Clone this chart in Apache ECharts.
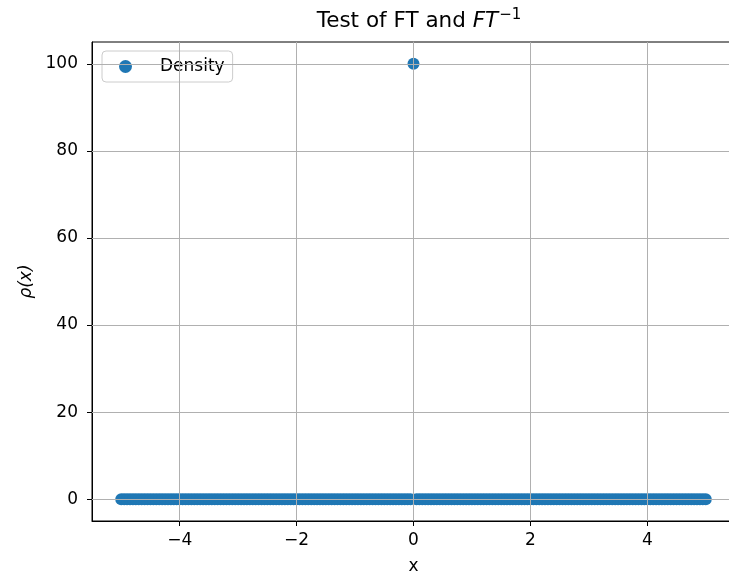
<!DOCTYPE html>
<html>
<head>
<meta charset="utf-8">
<script src="https://cdn.jsdelivr.net/npm/echarts@6/dist/echarts.min.js"></script>
<style>
  html, body { margin: 0; padding: 0; background: #fff; overflow: hidden; }
  #chart { width: 740px; height: 575px; }
</style>
</head>
<body>
<div id="chart"></div>
<script>
// Sample positions on the x grid
const xValues = [
  -5.00, -4.95, -4.90, -4.85, -4.80, -4.75, -4.70, -4.65, -4.60, -4.55,
  -4.50, -4.45, -4.40, -4.35, -4.30, -4.25, -4.20, -4.15, -4.10, -4.05,
  -4.00, -3.95, -3.90, -3.85, -3.80, -3.75, -3.70, -3.65, -3.60, -3.55,
  -3.50, -3.45, -3.40, -3.35, -3.30, -3.25, -3.20, -3.15, -3.10, -3.05,
  -3.00, -2.95, -2.90, -2.85, -2.80, -2.75, -2.70, -2.65, -2.60, -2.55,
  -2.50, -2.45, -2.40, -2.35, -2.30, -2.25, -2.20, -2.15, -2.10, -2.05,
  -2.00, -1.95, -1.90, -1.85, -1.80, -1.75, -1.70, -1.65, -1.60, -1.55,
  -1.50, -1.45, -1.40, -1.35, -1.30, -1.25, -1.20, -1.15, -1.10, -1.05,
  -1.00, -0.95, -0.90, -0.85, -0.80, -0.75, -0.70, -0.65, -0.60, -0.55,
  -0.50, -0.45, -0.40, -0.35, -0.30, -0.25, -0.20, -0.15, -0.10, -0.05,
   0.00,
   0.05,  0.10,  0.15,  0.20,  0.25,  0.30,  0.35,  0.40,  0.45,  0.50,
   0.55,  0.60,  0.65,  0.70,  0.75,  0.80,  0.85,  0.90,  0.95,  1.00,
   1.05,  1.10,  1.15,  1.20,  1.25,  1.30,  1.35,  1.40,  1.45,  1.50,
   1.55,  1.60,  1.65,  1.70,  1.75,  1.80,  1.85,  1.90,  1.95,  2.00,
   2.05,  2.10,  2.15,  2.20,  2.25,  2.30,  2.35,  2.40,  2.45,  2.50,
   2.55,  2.60,  2.65,  2.70,  2.75,  2.80,  2.85,  2.90,  2.95,  3.00,
   3.05,  3.10,  3.15,  3.20,  3.25,  3.30,  3.35,  3.40,  3.45,  3.50,
   3.55,  3.60,  3.65,  3.70,  3.75,  3.80,  3.85,  3.90,  3.95,  4.00,
   4.05,  4.10,  4.15,  4.20,  4.25,  4.30,  4.35,  4.40,  4.45,  4.50,
   4.55,  4.60,  4.65,  4.70,  4.75,  4.80,  4.85,  4.90,  4.95,  5.00
];

// Density at each sample (a single spike at x = 0)
const densityValues = [
  0, 0, 0, 0, 0, 0, 0, 0, 0, 0,
  0, 0, 0, 0, 0, 0, 0, 0, 0, 0,
  0, 0, 0, 0, 0, 0, 0, 0, 0, 0,
  0, 0, 0, 0, 0, 0, 0, 0, 0, 0,
  0, 0, 0, 0, 0, 0, 0, 0, 0, 0,
  0, 0, 0, 0, 0, 0, 0, 0, 0, 0,
  0, 0, 0, 0, 0, 0, 0, 0, 0, 0,
  0, 0, 0, 0, 0, 0, 0, 0, 0, 0,
  0, 0, 0, 0, 0, 0, 0, 0, 0, 0,
  0, 0, 0, 0, 0, 0, 0, 0, 0, 0,
  100,
  0, 0, 0, 0, 0, 0, 0, 0, 0, 0,
  0, 0, 0, 0, 0, 0, 0, 0, 0, 0,
  0, 0, 0, 0, 0, 0, 0, 0, 0, 0,
  0, 0, 0, 0, 0, 0, 0, 0, 0, 0,
  0, 0, 0, 0, 0, 0, 0, 0, 0, 0,
  0, 0, 0, 0, 0, 0, 0, 0, 0, 0,
  0, 0, 0, 0, 0, 0, 0, 0, 0, 0,
  0, 0, 0, 0, 0, 0, 0, 0, 0, 0,
  0, 0, 0, 0, 0, 0, 0, 0, 0, 0,
  0, 0, 0, 0, 0, 0, 0, 0, 0, 0
];

// Tick positions
const xTicks = [-4, -2, 0, 2, 4];
const yTicks = [0, 20, 40, 60, 80, 100];

const FONT = 'DejaVu Sans';
const BLUE = '#1f77b4';
const GRID_COLOR = '#b0b0b0';
const TICK_FONT = 17;

const fmtTick = v => (v < 0 ? '\u2212' + Math.abs(v) : String(v));

const points = xValues.map((x, i) => [x, densityValues[i]]);

// Grid lines drawn above the markers
const gridLines = [
  ...xTicks.map(v => ({ xAxis: v })),
  ...yTicks.map(v => ({ yAxis: v }))
];

const chart = echarts.init(document.getElementById('chart'), null, { renderer: 'canvas' });

chart.setOption({
  animation: false,
  backgroundColor: '#fff',
  textStyle: { fontFamily: FONT },
  title: {
    text: '{n|Test of FT and }{i|FT}{s|\u22121}',
    left: 414,
    textAlign: 'center',
    top: 3,
    textStyle: {
      rich: {
        n: { fontFamily: FONT, fontSize: 21.5, color: '#000', fontWeight: 'normal' },
        i: { fontFamily: FONT, fontSize: 21.5, color: '#000', fontStyle: 'italic', fontWeight: 'normal' },
        s: { fontFamily: FONT, fontSize: 15, color: '#000', fontWeight: 'normal', verticalAlign: 'top', padding: [0, 0, 12, 1] }
      }
    }
  },
  legend: {
    data: ['Density'],
    left: 102,
    top: 51,
    orient: 'vertical',
    padding: [7, 8, 7, 17],
    itemWidth: 13,
    itemHeight: 13,
    icon: 'circle',
    backgroundColor: 'rgba(255,255,255,0.8)',
    borderColor: '#cccccc',
    borderWidth: 1,
    borderRadius: 4,
    textStyle: { fontFamily: FONT, fontSize: TICK_FONT, color: '#000', padding: [0, 0, 0, 23] }
  },
  grid: {
    left: 92,
    top: 42,
    width: 643,
    height: 479,
    outerBoundsMode: 'none',
    show: true,
    borderColor: '#000',
    borderWidth: 1,
    backgroundColor: 'transparent'
  },
  xAxis: {
    type: 'value',
    min: -5.5,
    max: 5.5,
    name: 'x',
    nameLocation: 'middle',
    nameGap: 37,
    nameTextStyle: { fontFamily: FONT, fontSize: TICK_FONT, color: '#000' },
    axisLine: { show: true, onZero: false, lineStyle: { color: '#000', width: 1 } },
    axisTick: { show: true, inside: false, length: 5, customValues: xTicks, lineStyle: { color: '#000' } },
    axisLabel: { show: true, margin: 11, customValues: xTicks, formatter: fmtTick, fontFamily: FONT, fontSize: TICK_FONT, color: '#000' },
    splitLine: { show: false }
  },
  yAxis: {
    type: 'value',
    min: -5,
    max: 105,
    name: '\u03c1(x)',
    nameLocation: 'middle',
    nameGap: 52,
    nameRotate: 90,
    nameTextStyle: { fontFamily: FONT, fontSize: TICK_FONT, color: '#000', fontStyle: 'italic' },
    axisLine: { show: true, onZero: false, lineStyle: { color: '#000', width: 1 } },
    axisTick: { show: true, inside: false, length: 5, customValues: yTicks, lineStyle: { color: '#000' } },
    axisLabel: { show: true, margin: 14, customValues: yTicks, formatter: fmtTick, fontFamily: FONT, fontSize: TICK_FONT, color: '#000' },
    splitLine: { show: false }
  },
  series: [
    {
      name: 'Density',
      type: 'scatter',
      data: points,
      symbol: 'circle',
      symbolSize: 12,
      itemStyle: { color: BLUE, opacity: 1 },
      z: 2
    },
    {
      name: 'grid',
      type: 'line',
      data: [],
      z: 5,
      silent: true,
      markLine: {
        silent: true,
        symbol: ['none', 'none'],
        label: { show: false },
        lineStyle: { color: GRID_COLOR, width: 1, type: 'solid' },
        emphasis: { disabled: true },
        animation: false,
        data: gridLines
      }
    }
  ]
});
</script>
</body>
</html>
